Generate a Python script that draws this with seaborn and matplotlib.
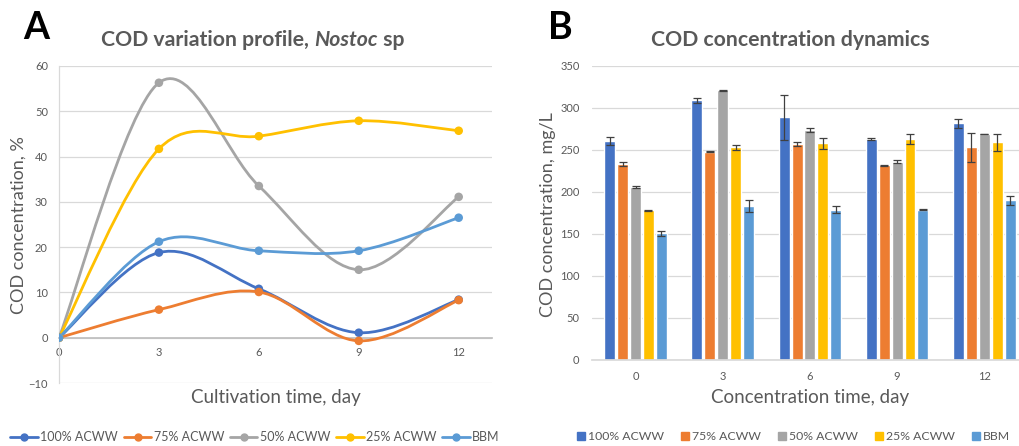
import numpy as np
import pandas as pd
import matplotlib
matplotlib.use("Agg")
import matplotlib.pyplot as plt
import seaborn as sns
from matplotlib.path import Path
from matplotlib.patches import PathPatch
from matplotlib.lines import Line2D

# ---------------- data ----------------
groups = ["100% ACWW", "75% ACWW", "50% ACWW", "25% ACWW", "BBM"]
days = [0, 3, 6, 9, 12]
day_labels = ["0", "3", "6", "9", "12"]

# Panel A: COD variation, %
pct_100 = [0, 18.8, 10.8, 1.1, 8.4]
pct_75 = [0, 6.2, 10.1, -0.7, 8.3]
pct_50 = [0, 56.3, 33.5, 15.0, 31.1]
pct_25 = [0, 41.7, 44.5, 47.9, 45.7]
pct_bbm = [0, 21.2, 19.2, 19.2, 26.5]

# Panel B: COD concentration, mg/L (mean, error)
cod_100 = [261, 309, 289, 263, 282]
cod_75 = [233, 248, 257, 232, 253]
cod_50 = [206, 321, 274, 236, 269]
cod_25 = [178, 253, 258, 263, 259]
cod_bbm = [151, 183, 179, 179, 190]

err_100 = [5, 3.5, 27, 1.5, 5.5]
err_75 = [2.5, 0.5, 2, 0.5, 17]
err_50 = [1, 0.5, 2, 2, 0.5]
err_25 = [1, 2.5, 6.5, 6, 10]
err_bbm = [3, 7, 4.5, 0.5, 5.5]

colors = ["#4472C4", "#ED7D31", "#A5A5A5", "#FFC000", "#5B9BD5"]

pct_series = [pct_100, pct_75, pct_50, pct_25, pct_bbm]
cod_series = [cod_100, cod_75, cod_50, cod_25, cod_bbm]
err_series = [err_100, err_75, err_50, err_25, err_bbm]

# ---------------- style ----------------
sns.set_theme(style="white")
plt.rcParams["font.family"] = ["Lato", "DejaVu Sans"]
TXT = "#595959"
GRID = "#d9d9d9"

fig = plt.figure(figsize=(10.2, 4.46), dpi=100)
W, H = 1020, 446

def ax_rect(x0, x1, ytop, ybot):
    return [x0 / W, (H - ybot) / H, (x1 - x0) / W, (ybot - ytop) / H]

axA = fig.add_axes(ax_rect(59, 492, 66, 383))
axB = fig.add_axes(ax_rect(592, 1020, 66, 360))

# ---------------- Panel A ----------------
dfA = pd.DataFrame({
    "day": np.tile(days, len(groups)),
    "val": np.concatenate(pct_series),
    "group": np.repeat(groups, len(days)),
})

def smooth_path(xs, ys):
    P = np.column_stack([xs, ys]).astype(float)
    n = len(P)
    verts = [P[0]]
    codes = [Path.MOVETO]
    for i in range(n - 1):
        p_prev = P[i - 1] if i > 0 else P[i]
        p_next2 = P[i + 2] if i + 2 < n else P[i + 1]
        c1 = P[i] + (P[i + 1] - p_prev) / 6.0
        c2 = P[i + 1] - (p_next2 - P[i]) / 6.0
        verts += [c1, c2, P[i + 1]]
        codes += [Path.CURVE4] * 3
    return Path(verts, codes)

for g, c in zip(groups, colors):
    sub = dfA[dfA["group"] == g]
    axA.add_patch(PathPatch(smooth_path(sub["day"].values, sub["val"].values),
                            facecolor="none", edgecolor=c, lw=2.0, zorder=3))

sns.scatterplot(data=dfA, x="day", y="val", hue="group", palette=colors,
                s=38, edgecolor="none", legend=False, ax=axA, zorder=4)

axA.set_xlim(0, 13)
axA.set_ylim(-10, 60)
axA.set_yticks(np.arange(-10, 61, 10))
axA.set_xticks(days)
axA.set_xticklabels(day_labels)
axA.grid(axis="y", color=GRID, lw=0.9)
axA.grid(axis="x", visible=False)
for s in ["top", "right"]:
    axA.spines[s].set_visible(False)
axA.spines["left"].set_color(GRID)
axA.spines["bottom"].set_position(("data", 0))
axA.spines["bottom"].set_color("#bfbfbf")
axA.spines["left"].set_linewidth(0.9)
axA.tick_params(axis="y", length=0, pad=8, labelsize=8, labelcolor=TXT)
axA.tick_params(axis="x", length=0, pad=7, labelsize=8, labelcolor=TXT)
axA.set_xlabel("")
axA.set_ylabel("")
axA.set_axisbelow(True)

# ---------------- Panel B ----------------
dfB = pd.DataFrame({
    "day": pd.Categorical(np.tile(day_labels, len(groups)), categories=day_labels),
    "cod": np.concatenate(cod_series),
    "group": np.repeat(groups, len(days)),
})
sns.barplot(data=dfB, x="day", y="cod", hue="group", hue_order=groups,
            palette=colors, width=0.74, gap=0.15, errorbar=None,
            legend=False, ax=axB, saturation=1, zorder=2)

for cont, errs in zip(axB.containers, err_series):
    xs = [b.get_x() + b.get_width() / 2 for b in cont]
    ys = [b.get_height() for b in cont]
    axB.errorbar(xs, ys, yerr=errs, fmt="none", ecolor="#404040",
                 elinewidth=0.9, capsize=3, capthick=0.9, zorder=5)

axB.set_xlim(-0.5, 4.41)
axB.set_ylim(0, 350)
axB.set_yticks(np.arange(0, 351, 50))
axB.grid(axis="y", color=GRID, lw=0.9)
axB.grid(axis="x", visible=False)
for s in ["top", "right", "left"]:
    axB.spines[s].set_visible(False)
axB.spines["bottom"].set_color(GRID)
axB.tick_params(axis="y", length=0, pad=9, labelsize=8, labelcolor=TXT)
axB.tick_params(axis="x", length=0, pad=8, labelsize=8, labelcolor=TXT)
axB.set_xlabel("")
axB.set_ylabel("")
axB.set_axisbelow(True)

# ---------------- Texts ----------------
def fx(px):
    return px / W

def fy(py):
    return (H - py) / H

fig.text(fx(36), fy(28), "A", fontsize=27, fontweight="bold", color="black",
         ha="center", va="center")
fig.text(fx(560), fy(28), "B", fontsize=27, fontweight="bold", color="black",
         ha="center", va="center")

# Title A with italic "Nostoc"
renderer = fig.canvas.get_renderer()
parts = [("COD variation profile, ", "normal"), ("Nostoc", "italic"), (" sp", "normal")]
tmp = []
total = 0
for t, st in parts:
    tx = fig.text(0, 0, t, fontsize=15.3, fontweight="bold", style=st, color=TXT)
    bb = tx.get_window_extent(renderer)
    tmp.append((tx, bb.width))
    total += bb.width
x = 253 - total / 2
for tx, w in tmp:
    tx.set_position((fx(x), fy(40)))
    tx.set_va("center")
    x += w

fig.text(fx(790), fy(40), "COD concentration dynamics", fontsize=15.3,
         fontweight="bold", color=TXT, ha="center", va="center")

fig.text(fx(19), fy(225), "COD concentration, %", fontsize=13, color=TXT,
         rotation=90, ha="center", va="center")
fig.text(fx(548), fy(215), "COD concentration, mg/L", fontsize=13, color=TXT,
         rotation=90, ha="center", va="center")
fig.text(fx(276), fy(398), "Cultivation time, day", fontsize=13.5, color=TXT,
         ha="center", va="center")
fig.text(fx(810), fy(398), "Concentration time, day", fontsize=13.5, color=TXT,
         ha="center", va="center")

# ---------------- Legends ----------------
hA = [Line2D([0], [0], color=c, lw=2, marker="o", markersize=5) for c in colors]
legA = fig.legend(hA, groups, loc="center", bbox_to_anchor=(fx(255), fy(437)),
                  ncol=5, frameon=False, fontsize=9, handlelength=2.2,
                  handletextpad=0.2, columnspacing=0.45, labelcolor=TXT)
hB = [Line2D([0], [0], color=c, lw=0, marker="s", markersize=6) for c in colors]
legB = fig.legend(hB, groups, loc="center", bbox_to_anchor=(fx(793), fy(437)),
                  ncol=5, frameon=False, fontsize=8.8, handlelength=0.8,
                  handletextpad=0.2, columnspacing=1.3, labelcolor=TXT)

fig.savefig("out.png", dpi=100)
